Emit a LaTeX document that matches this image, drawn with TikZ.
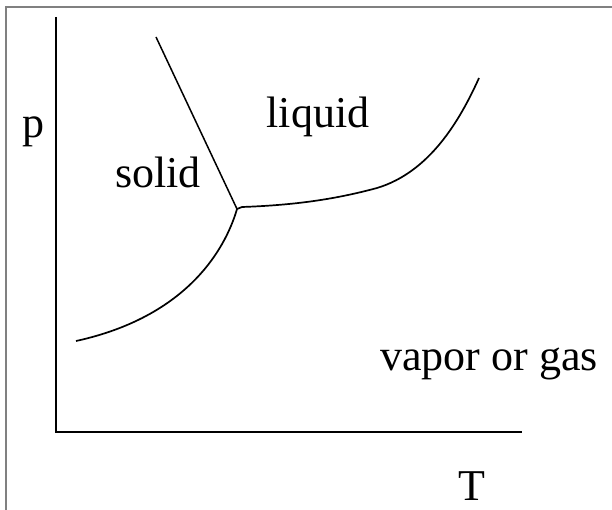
\documentclass[tikz,border=0pt]{standalone}
\usepackage{fontspec}
\setmainfont{Liberation Serif}
\usepackage{tikz}
\usetikzlibrary{arrows}

\tikzset{label/.style={font=\fontsize{44}{50}\selectfont,anchor=base,inner sep=0pt}}

\begin{document}
\begin{tikzpicture}[x=1pt,y=-1pt]
\useasboundingbox (0,0) rectangle (612,510);
\draw [gray,line width=1.2pt] (6,510) -- (6,7) -- (612,7);
% axes
\coordinate (yend) at (56,17);
\coordinate (origin) at (56,432);
\coordinate (xend) at (522,432);
\draw [line width=1.8pt] (yend) -- (origin) -- (xend);
% phase boundaries
\coordinate (triple) at (237,209);
\coordinate (meltend) at (156,37);
\coordinate (subend) at (76,341);
\coordinate (vapend) at (479,78);
\draw [line width=1.5pt] (meltend) -- (triple);
\draw [line width=1.7pt] (triple) .. controls (228,240) and (195,315) .. (subend);
\draw [line width=1.7pt] (triple) -- (242,207) .. controls (300,205) and (340,198) .. (377,188)
  .. controls (430,172) and (460,120) .. (vapend);
\node [label] (p) at (33,138) {p};
\node [label] (liquid) at (318,128) {liquid};
\node [label] (solid) at (158,188) {solid};
\node [label] (vapor) at (489,370) {vapor or gas};
\node [label] (T) at (472,500) {T};
\end{tikzpicture}
\end{document}
